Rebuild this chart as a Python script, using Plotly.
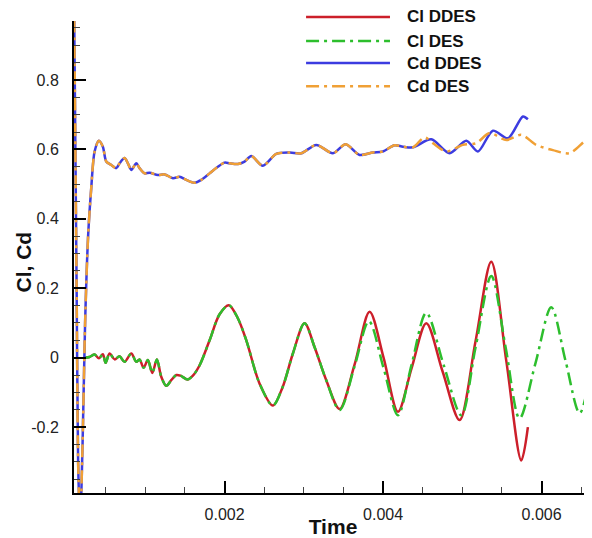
import plotly.graph_objects as go

# ---- data ----
cd_t = [0.000100, 0.000133, 0.000152, 0.000177, 0.000208, 0.000240, 0.000278,
        0.000318, 0.000360, 0.000414, 0.000464, 0.000507, 0.000570, 0.000633,
        0.000675, 0.000738, 0.000780, 0.000823, 0.000886, 0.000927, 0.000991,
        0.001054, 0.001158, 0.001243, 0.001348, 0.001432, 0.001517, 0.001621,
        0.001706, 0.001811, 0.001915, 0.002000, 0.002063, 0.002168, 0.002252,
        0.002337, 0.002483, 0.002652, 0.002820, 0.002968, 0.003157, 0.003367,
        0.003527, 0.003703, 0.003871, 0.003997, 0.004145, 0.004250, 0.004376]
cd_common = [1.05, 0.20, -0.30, -0.48, -0.25, 0.10, 0.35,
             0.49, 0.594, 0.625, 0.608, 0.565, 0.555, 0.546,
             0.560, 0.575, 0.560, 0.541, 0.560, 0.546, 0.531,
             0.533, 0.526, 0.528, 0.517, 0.521, 0.512, 0.504,
             0.512, 0.531, 0.550, 0.562, 0.560, 0.558, 0.565,
             0.581, 0.553, 0.587, 0.591, 0.589, 0.613, 0.589,
             0.615, 0.584, 0.591, 0.594, 0.612, 0.608, 0.606]

cd_ddes_t_tail = [0.004608, 0.004839, 0.005050, 0.005196, 0.005386, 0.005575, 0.005764, 0.005827]
cd_ddes_tail = [0.629, 0.589, 0.625, 0.594, 0.654, 0.632, 0.695, 0.687]

cd_des_t_tail = [0.004524, 0.004629, 0.004797, 0.005007, 0.005176, 0.005344, 0.005555,
                 0.005744, 0.005933, 0.006143, 0.006353, 0.006564, 0.006700]
cd_des_tail = [0.635, 0.618, 0.594, 0.613, 0.618, 0.647, 0.627,
               0.642, 0.613, 0.598, 0.589, 0.627, 0.640]

cl_t = [0.000233, 0.000297, 0.000360, 0.000414, 0.000464, 0.000498, 0.000549,
        0.000612, 0.000675, 0.000738, 0.000823, 0.000886, 0.000927, 0.000978,
        0.001032, 0.001088, 0.001146, 0.001201, 0.001264, 0.001327, 0.001391,
        0.001445, 0.001533, 0.001600, 0.001685, 0.001811, 0.001937, 0.002054,
        0.002164, 0.002274, 0.002442, 0.002609, 0.002732, 0.002862, 0.003009,
        0.003136, 0.003283]
cl_common = [0.000, 0.002, 0.009, -0.002, 0.010, -0.015, 0.012,
             -0.005, 0.004, -0.012, 0.012, -0.012, -0.005, -0.029,
             -0.007, -0.044, -0.005, -0.055, -0.081, -0.065, -0.050,
             -0.052, -0.063, -0.052, -0.022, 0.050, 0.125, 0.151,
             0.115, 0.050, -0.075, -0.138, -0.085, 0.012, 0.099,
             0.030, -0.065]

cl_ddes_t_tail = [0.003451, 0.003640, 0.003830, 0.004006, 0.004187, 0.004360, 0.004545,
                  0.004751, 0.004965, 0.005167, 0.005365, 0.005555, 0.005744]
cl_ddes_tail = [-0.148, -0.020, 0.132, 0.000, -0.156, -0.030, 0.099,
                -0.040, -0.180, 0.048, 0.276, -0.010, -0.296]
cl_ddes_t_end = [0.005827]
cl_ddes_end = [-0.200]

cl_des_t_tail = [0.003451, 0.003640, 0.003821, 0.004006, 0.004187, 0.004360, 0.004545,
                 0.004763, 0.004987, 0.005167, 0.005365, 0.005546, 0.005722, 0.005924,
                 0.006122, 0.006303, 0.006480, 0.006631, 0.006732]
cl_des_tail = [-0.151, -0.025, 0.105, -0.030, -0.166, -0.020, 0.129,
               -0.020, -0.166, 0.030, 0.235, 0.030, -0.175, -0.015,
               0.145, -0.010, -0.160, -0.036, 0.060]

legend_names = ["Cl DDES", "Cl DES", "Cd DDES", "Cd DES"]

# ---- styles ----
RED = "#cc1f2a"
GREEN = "#2dbe2d"
BLUE = "#3c3ce0"
ORANGE = "#f0a035"
DASHDOT = "13px,5px,3px,5px"
colors = [RED, GREEN, BLUE, ORANGE]
dashes = ["solid", DASHDOT, "solid", DASHDOT]

fig = go.Figure()
fig.add_trace(go.Scatter(x=cl_t + cl_ddes_t_tail + cl_ddes_t_end,
                         y=cl_common + cl_ddes_tail + cl_ddes_end,
                         mode="lines", name=legend_names[0],
                         line=dict(color=RED, width=2.5, shape="spline", smoothing=0.9)))
fig.add_trace(go.Scatter(x=cl_t + cl_des_t_tail, y=cl_common + cl_des_tail,
                         mode="lines", name=legend_names[1],
                         line=dict(color=GREEN, width=2.5, dash=DASHDOT, shape="spline", smoothing=0.9)))
fig.add_trace(go.Scatter(x=cd_t + cd_ddes_t_tail, y=cd_common + cd_ddes_tail,
                         mode="lines", name=legend_names[2],
                         line=dict(color=BLUE, width=2.5, shape="spline", smoothing=0.8)))
fig.add_trace(go.Scatter(x=cd_t + cd_des_t_tail, y=cd_common + cd_des_tail,
                         mode="lines", name=legend_names[3],
                         line=dict(color=ORANGE, width=2.5, dash=DASHDOT, shape="spline", smoothing=0.8)))

FONT = "Liberation Sans, Arial, sans-serif"
# the page adds an 8px body margin, so the figure is 8px smaller and margins shifted
fig.update_layout(
    width=584, height=530,
    margin=dict(l=66, r=0, t=13, b=45),
    paper_bgcolor="white", plot_bgcolor="white",
    font=dict(family=FONT, size=16, color="#222222"),
    showlegend=False,
)

# legend drawn in paper coordinates (top-right, above the plot area)
leg_rows = [1.0085, 0.9576, 0.911, 0.862]
for name, col, dsh, yy in zip(legend_names, colors, dashes, leg_rows):
    fig.add_shape(type="line", xref="paper", yref="paper", x0=0.448, x1=0.610, y0=yy, y1=yy,
                  line=dict(color=col, width=2.5, dash=dsh))
    fig.add_annotation(xref="paper", yref="paper", x=0.639, y=yy, text="<b>" + name + "</b>",
                       showarrow=False, xanchor="left", yanchor="middle",
                       font=dict(size=17, color="#111111"))

# y-axis title placed close to the tick labels
fig.add_annotation(xref="paper", yref="paper", x=-0.097, y=0.49, text="<b>Cl, Cd</b>",
                   textangle=-90, showarrow=False, xanchor="center", yanchor="middle",
                   font=dict(size=21, color="#111111"))

fig.update_xaxes(
    range=[0.0001, 0.006636], showline=True, linecolor="black", linewidth=2,
    showgrid=False, zeroline=False, mirror=False, automargin=False,
    tickmode="array", tickvals=[0.002, 0.004, 0.006], ticktext=["0.002", "0.004", "0.006"],
    ticks="inside", ticklen=12, tickwidth=2, tickcolor="black",
    minor=dict(dtick=0.0005, tick0=0, ticks="inside", ticklen=6, tickwidth=1, tickcolor="#444", showgrid=False),
    ticklabelstandoff=6,
    title=dict(text="<b>Time</b>", font=dict(size=21, color="#111111"), standoff=0),
)
fig.update_yaxes(
    range=[-0.39, 0.97], showline=True, linecolor="black", linewidth=2,
    showgrid=False, zeroline=False, mirror=False, automargin=False,
    tickmode="array", tickvals=[-0.2, 0, 0.2, 0.4, 0.6, 0.8],
    ticktext=["-0.2", "0", "0.2", "0.4", "0.6", "0.8"],
    ticks="inside", ticklen=12, tickwidth=2, tickcolor="black",
    minor=dict(dtick=0.05, tick0=0, ticks="inside", ticklen=6, tickwidth=1, tickcolor="#444", showgrid=False),
    ticklabelstandoff=10,
)
fig.write_html("out.html")
